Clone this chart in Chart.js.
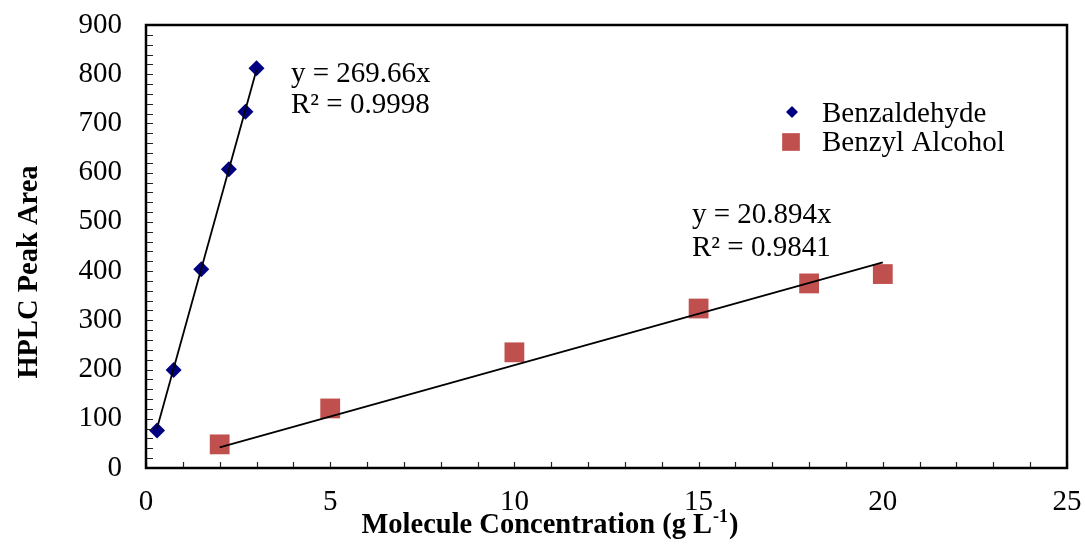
<!DOCTYPE html>
<html><head><meta charset="utf-8">
<script src="https://cdn.jsdelivr.net/npm/chart.js@4"></script>
<style>html,body{margin:0;padding:0;background:#fff}#wrap{width:1085px;height:544px}</style>
</head><body><div id="wrap"><canvas id="c" width="1085" height="544"></canvas></div>
<script>
// ---- data ----
const seriesNames = ['Benzaldehyde', 'Benzyl Alcohol'];
const benzaldehydeX = [0.3, 0.75, 1.5, 2.25, 2.7, 3.0];
const benzaldehydeY = [76, 199, 404, 607, 724, 812];
const benzylX = [2, 5, 10, 15, 18, 20];
const benzylY = [48, 121, 235, 324, 375, 394];
// trendline end points (as drawn in the reference)
const trendAX = [0.3, 3.0];
const trendAY = [80.9, 809.0];
const trendBX = [2, 20];
const trendBY = [41.8, 417.9];
const equationA = ['y = 269.66x', 'R\u00B2 = 0.9998'];
const equationB = ['y = 20.894x', 'R\u00B2 = 0.9841'];
const xTickValues = [0, 5, 10, 15, 20, 25];
const yTickValues = [0, 100, 200, 300, 400, 500, 600, 700, 800, 900];
const xTitle = ['Molecule Concentration (g L', '-1', ')'];
const yTitle = 'HPLC Peak Area';

const FONT = '"Liberation Serif", "Times New Roman", serif';
const toPts = (xs, ys) => xs.map((x, i) => ({x: x, y: ys[i]}));

const extras = {
  id: 'extras',
  afterDraw(chart) {
    const ctx = chart.ctx, a = chart.chartArea;
    const xs = chart.scales.x, ys = chart.scales.y;
    ctx.save();
    // inward ticks
    ctx.strokeStyle = '#222'; ctx.lineWidth = 1.2;
    ctx.beginPath();
    for (let v = 0; v <= 25; v += 1) {
      const px = Math.round(xs.getPixelForValue(v)) + 0.5;
      ctx.moveTo(px, a.bottom); ctx.lineTo(px, a.bottom - 6);
    }
    for (let v = 0; v <= 900; v += 20) {
      const py = Math.round(ys.getPixelForValue(v)) + 0.5;
      ctx.moveTo(a.left, py); ctx.lineTo(a.left + 7, py);
    }
    ctx.stroke();
    // border
    ctx.strokeStyle = '#000'; ctx.lineWidth = 2.5;
    ctx.strokeRect(a.left, a.top, a.right - a.left, a.bottom - a.top);
    // equations
    ctx.fillStyle = '#000';
    ctx.font = '29px ' + FONT;
    ctx.textAlign = 'left'; ctx.textBaseline = 'alphabetic';
    ctx.fillText(equationA[0], 291, 82);
    ctx.fillText(equationA[1], 291, 113);
    ctx.fillText(equationB[0], 692, 223);
    ctx.fillText(equationB[1], 692, 256);
    // legend
    const d0 = chart.data.datasets[2], d1 = chart.data.datasets[3];
    ctx.fillStyle = d0.backgroundColor;
    Chart.helpers.drawPoint(ctx, {pointStyle: 'rectRot', radius: 6, rotation: 0, borderWidth: 0}, 792, 112);
    ctx.fillStyle = d1.backgroundColor;
    Chart.helpers.drawPoint(ctx, {pointStyle: 'rect', radius: 12.5, rotation: 0, borderWidth: 0}, 791, 142);
    ctx.fillStyle = '#000';
    ctx.fillText(seriesNames[0], 822, 122);
    ctx.fillText(seriesNames[1], 822, 151);
    // x title with superscript
    ctx.font = 'bold 28.5px ' + FONT;
    const w0 = ctx.measureText(xTitle[0]).width;
    const w2 = ctx.measureText(xTitle[2]).width;
    ctx.font = 'bold 18px ' + FONT;
    const w1 = ctx.measureText(xTitle[1]).width + 2;
    const total = w0 + w1 + w2;
    const x0 = 550 - total / 2;
    const base = 533;
    ctx.font = 'bold 28.5px ' + FONT;
    ctx.fillText(xTitle[0], x0, base);
    ctx.font = 'bold 18px ' + FONT;
    ctx.fillText(xTitle[1], x0 + w0 + 1, base - 11);
    ctx.font = 'bold 28.5px ' + FONT;
    ctx.fillText(xTitle[2], x0 + w0 + w1, base);
    // y title
    ctx.save();
    ctx.translate(30, 272);
    ctx.rotate(-Math.PI / 2);
    ctx.font = 'bold 28.5px ' + FONT;
    ctx.textAlign = 'center'; ctx.textBaseline = 'middle';
    ctx.fillText(yTitle, 0, 0);
    ctx.restore();
    ctx.restore();
  }
};

new Chart(document.getElementById('c'), {
  type: 'scatter',
  data: {
    datasets: [
      {label: 'trendA', data: toPts(trendAX, trendAY), showLine: true, borderColor: '#000', borderWidth: 1.8, pointRadius: 0, order: 0},
      {label: 'trendB', data: toPts(trendBX, trendBY), showLine: true, borderColor: '#000', borderWidth: 1.8, pointRadius: 0, order: 0},
      {label: seriesNames[0], data: toPts(benzaldehydeX, benzaldehydeY), pointStyle: 'rectRot', pointRadius: 8, backgroundColor: '#000080', borderColor: '#000080', borderWidth: 0, order: 1},
      {label: seriesNames[1], data: toPts(benzylX, benzylY), pointStyle: 'rect', pointRadius: 14, backgroundColor: '#C0504D', borderColor: '#C0504D', borderWidth: 0, order: 1}
    ]
  },
  options: {
    responsive: false,
    animation: false,
    devicePixelRatio: 1,
    layout: {padding: {top: 25, right: 18, bottom: 0, left: 0}, autoPadding: false},
    plugins: {legend: {display: false}, tooltip: {enabled: false}},
    scales: {
      x: {
        type: 'linear', min: 0, max: 25,
        afterBuildTicks: s => { s.ticks = xTickValues.map(v => ({value: v})); },
        afterFit: s => { s.height = 76; s.paddingLeft = 0; s.paddingRight = 0; },
        grid: {display: false, drawTicks: false},
        border: {display: false},
        ticks: {color: '#000', font: {family: FONT, size: 29}, padding: 17, maxRotation: 0}
      },
      y: {
        type: 'linear', min: 0, max: 900,
        afterBuildTicks: s => { s.ticks = yTickValues.map(v => ({value: v})); },
        afterFit: s => { s.width = 146; s.paddingTop = 0; s.paddingBottom = 0; },
        grid: {display: false, drawTicks: false},
        border: {display: false},
        ticks: {color: '#000', font: {family: FONT, size: 29}, padding: 24},
        title: {display: false, text: yTitle}
      }
    }
  },
  plugins: [extras]
});
</script>
</body></html>
